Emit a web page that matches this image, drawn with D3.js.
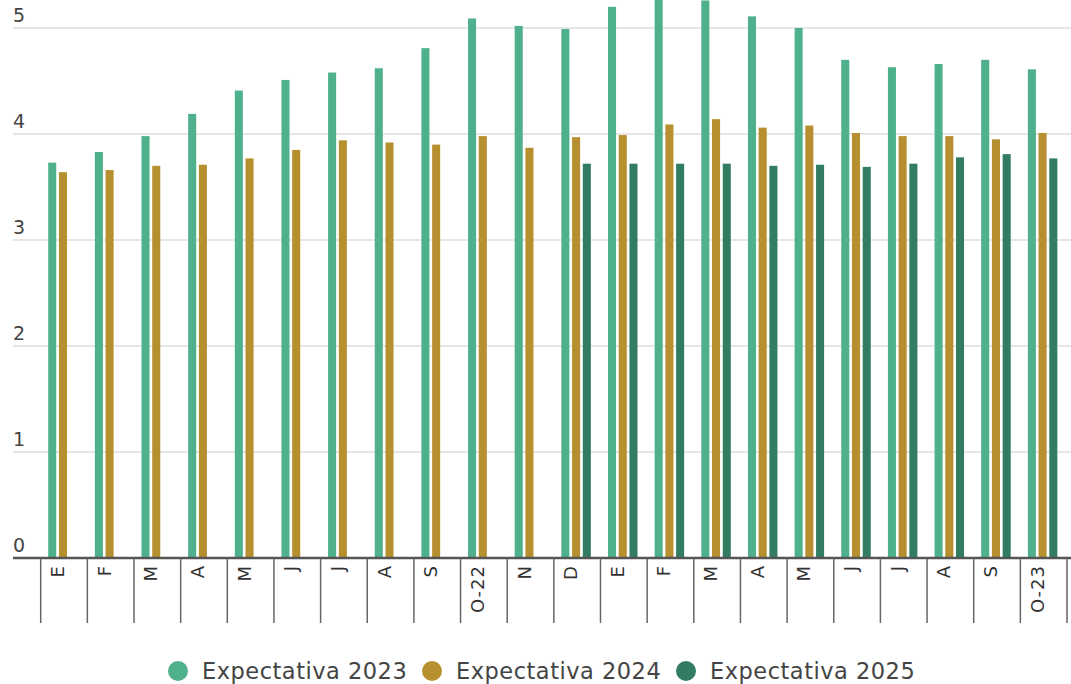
<!DOCTYPE html>
<html>
<head>
<meta charset="utf-8">
<title>Expectativas de inflación</title>
<script src="https://d3js.org/d3.v7.min.js"></script>
<style>
    body { margin: 0; background: #fff; }
    svg text { font-family: "DejaVu Sans", "Open Sans", sans-serif; }
    .grid line { stroke: #dedede; stroke-width: 1.5px; }
    .sep { stroke: #666; stroke-width: 1.5px; }
</style>
</head>
<body>
<script>

// months (surveys) from E-22 to O-23
var categories = ["E","F","M","A","M","J","J","A","S","O-22","N","D",
                  "E","F","M","A","M","J","J","A","S","O-23"];

var series = ["Expectativa 2023", "Expectativa 2024", "Expectativa 2025"];

var exp2023 = [3.73,3.83,3.98,4.19,4.41,4.51,4.58,4.62,4.81,5.09,5.02,4.99,
               5.20,5.27,5.26,5.11,5.00,4.70,4.63,4.66,4.70,4.61];
var exp2024 = [3.64,3.66,3.70,3.71,3.77,3.85,3.94,3.92,3.90,3.98,3.87,3.97,
               3.99,4.09,4.14,4.06,4.08,4.01,3.98,3.98,3.95,4.01];
// 2025 only asked from D
var exp2025 = [null,null,null,null,null,null,null,null,null,null,null,3.72,
               3.72,3.72,3.72,3.70,3.71,3.69,3.72,3.78,3.81,3.77];

var yTicks = [0,1,2,3,4,5];
var colors = ["#4fb08c", "#b68f2e", "#327c62"];

var width = 1071, height = 684;

var svg = d3.select("body").append("svg")
    .attr("width", width)
    .attr("height", height);

var y = d3.scaleLinear().domain([0, 5]).range([558, 28]);

var x0 = d3.scaleBand()
    .domain(d3.range(categories.length))
    .range([40.7, 1067])
    .padding(0);

var x1 = d3.scaleBand()
    .domain(series)
    .range([7.5, 37])
    .paddingInner(0.25);

// gridlines + y labels
var grid = svg.append("g").attr("class", "grid");
grid.selectAll("line")
    .data(yTicks.filter(function (d) { return d > 0; })).enter()
    .append("line")
    .attr("x1", 13).attr("x2", width)
    .attr("y1", function (d) { return y(d); })
    .attr("y2", function (d) { return y(d); });

svg.selectAll(".ylab")
    .data(yTicks).enter()
    .append("text")
    .attr("class", "ylab")
    .attr("x", 13)
    .attr("y", function (d) { return y(d) - 6; })
    .attr("font-size", 19)
    .attr("fill", "#444")
    .text(function (d) { return d; });

// bars
var data = [exp2023, exp2024, exp2025];
var g = svg.append("g");
data.forEach(function (vals, si) {
    g.selectAll(".s" + si)
      .data(vals.map(function (v, i) { return {i: i, v: v}; })
                .filter(function (d) { return d.v != null; }))
      .enter()
      .append("rect")
      .attr("class", "s" + si)
      .attr("x", function (d) { return x0(d.i) + x1(series[si]); })
      .attr("width", x1.bandwidth())
      .attr("y", function (d) { return y(d.v); })
      .attr("height", function (d) { return y(0) - y(d.v); })
      .attr("fill", colors[si]);
});

// axis line
svg.append("line")
    .attr("x1", 13).attr("x2", width)
    .attr("y1", y(0)).attr("y2", y(0))
    .attr("stroke", "#555")
    .attr("stroke-width", 2.5);

// separators between months
svg.selectAll(".sep")
    .data(d3.range(categories.length + 1)).enter()
    .append("line")
    .attr("class", "sep")
    .attr("x1", function (i) { return 40.7 + i * x0.step(); })
    .attr("x2", function (i) { return 40.7 + i * x0.step(); })
    .attr("y1", y(0))
    .attr("y2", 623);

// month labels, rotated
svg.selectAll(".xlab")
    .data(categories).enter()
    .append("text")
    .attr("class", "xlab")
    .attr("transform", function (d, i) {
        return "translate(" + (x0(i) + 17) + "," + 565 + ") rotate(-90)";
    })
    .attr("text-anchor", "end")
    .attr("dy", "0.35em")
    .attr("font-size", 18)
    .attr("letter-spacing", 1)
    .attr("fill", "#333")
    .text(function (d) { return d; });

// legend
var legX = [178, 432, 686];
var leg = svg.selectAll(".leg")
    .data(series).enter()
    .append("g")
    .attr("transform", function (d, i) { return "translate(" + legX[i] + ",671)"; });

leg.append("circle")
    .attr("r", 10)
    .attr("fill", function (d, i) { return colors[i]; });

leg.append("text")
    .attr("x", 24)
    .attr("dy", "0.35em")
    .attr("font-size", 22.5)
    .attr("letter-spacing", 0.5)
    .attr("fill", "#444")
    .text(function (d) { return d; });

</script>
</body>
</html>
